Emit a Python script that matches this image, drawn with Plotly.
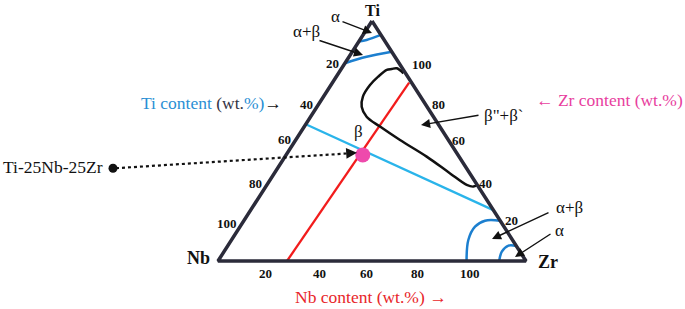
import plotly.graph_objects as go

# ---------------- data (compositions in wt.%: Ti, Zr; Nb = 100 - Ti - Zr) ----------------
vertex_labels = ["Ti", "Nb", "Zr"]
tri_ti = [100, 0, 0, 100]
tri_zr = [0, 0, 100, 0]

red_ti = [0, 74.3]
red_zr = [22.4, 24.9]

blue_ti = [57.0, 21.2]
blue_zr = [0.0, 78.8]

alloy_name = "Ti-25Nb-25Zr"
alloy_ti = [44.2]
alloy_zr = [24.9]

curve_ti = [78.2, 80.3, 80.0, 79.6, 76.8, 73.3, 68.5, 64.3, 60.1, 56.0, 50.4, 43.5, 36.5, 31.7, 31.0, 31.7]
curve_zr = [21.1, 17.9, 16.4, 15.0, 13.6, 12.7, 12.8, 14.5, 18.2, 24.6, 33.9, 46.0, 57.1, 64.9, 67.4, 68.2]

ti_arc1_ti = [91.5, 92.1, 94.2]
ti_arc1_zr = [0.0, 2.2, 5.8]
ti_arc2_ti = [82.4, 85.1, 87.2]
ti_arc2_zr = [0.0, 5.7, 12.8]

zr_arc1_ti = [0.0, 8.75, 14.3, 16.8, 16.8]
zr_arc1_zr = [80.7, 76.9, 76.3, 78.3, 83.2]
zr_arc2_ti = [0.0, 3.9, 6.4, 6.25]
zr_arc2_zr = [91.3, 90.2, 91.1, 93.75]

left_ticks = ["20", "40", "60", "80", "100"]
right_ticks = ["100", "80", "60", "40", "20"]
bottom_ticks = ["20", "40", "60", "80", "100"]

# ---------------- geometry ----------------
W, H = 685, 309
V_TI = (372, 21)
V_NB = (218, 261)
V_ZR = (526, 261)


def to_xy(ti_list, zr_list):
    xs, ys = [], []
    for ti, zr in zip(ti_list, zr_list):
        nb = 100 - ti - zr
        xs.append((ti * V_TI[0] + nb * V_NB[0] + zr * V_ZR[0]) / 100)
        ys.append((ti * V_TI[1] + nb * V_NB[1] + zr * V_ZR[1]) / 100)
    return xs, ys


EDGE = "#2b2b3a"
ARC_BLUE = "#1c7fcf"
LINE_BLUE = "#2ab4ea"
RED = "#f21c1c"
PINK = "#ee4aac"
FONT = "Liberation Serif"

fig = go.Figure()


def add_line(ti, zr, color, width, shape="linear", dash="solid"):
    x, y = to_xy(ti, zr)
    fig.add_trace(go.Scatter(x=x, y=y, mode="lines",
                             line=dict(color=color, width=width, shape=shape, dash=dash),
                             hoverinfo="skip", showlegend=False))


add_line(red_ti, red_zr, RED, 2.3)
add_line(blue_ti, blue_zr, LINE_BLUE, 2.3)
add_line(curve_ti, curve_zr, "#111111", 2.5, shape="spline")
add_line(ti_arc1_ti, ti_arc1_zr, ARC_BLUE, 2.5, shape="spline")
add_line(ti_arc2_ti, ti_arc2_zr, ARC_BLUE, 2.5, shape="spline")
add_line(zr_arc1_ti, zr_arc1_zr, ARC_BLUE, 2.5, shape="spline")
add_line(zr_arc2_ti, zr_arc2_zr, ARC_BLUE, 2.5, shape="spline")
add_line(tri_ti, tri_zr, EDGE, 3.5)

# dotted pointer from label dot to alloy point
dot_tail = (116, 168.2)
ax_, ay_ = to_xy(alloy_ti, alloy_zr)
fig.add_trace(go.Scatter(x=[dot_tail[0], ax_[0] - 13], y=[dot_tail[1], ay_[0] - 1.6], mode="lines",
                         line=dict(color="#111111", width=2.2, dash="dot"),
                         hoverinfo="skip", showlegend=False))
fig.add_trace(go.Scatter(x=[113], y=[168.3], mode="markers",
                         marker=dict(color="#111111", size=9),
                         hoverinfo="skip", showlegend=False))
fig.add_trace(go.Scatter(x=ax_, y=ay_, mode="markers",
                         marker=dict(color=PINK, size=15, line=dict(width=0)),
                         hoverinfo="skip", showlegend=False))

ann = []


def text(x, y, s, size=14, color="#111111", bold=False, xanchor="center", yanchor="middle"):
    ann.append(dict(x=x, y=y, xref="x", yref="y", text=("<b>%s</b>" % s) if bold else s,
                    showarrow=False, xanchor=xanchor, yanchor=yanchor,
                    font=dict(family=FONT, size=size, color=color)))


def arrow(tail, head, width=1.4):
    ann.append(dict(x=head[0], y=head[1], ax=tail[0], ay=tail[1], xref="x", yref="y",
                    axref="x", ayref="y", text="", showarrow=True, arrowhead=2,
                    arrowsize=1.3, arrowwidth=width, arrowcolor="#111111", standoff=0))


# vertex labels
text(372, 0, "Ti", 16, bold=True, yanchor="top")
text(198, 258, "Nb", 18, bold=True)
text(548, 262, "Zr", 18, bold=True)

# tick labels along edges
left_pos = [0.817, 0.65, 0.504, 0.32, 0.154]
for lab, t in zip(left_ticks, left_pos):
    x = V_NB[0] + t * (V_TI[0] - V_NB[0])
    y = V_NB[1] + t * (V_TI[1] - V_NB[1])
    text(x - 3, y - 1, lab, 13, bold=True, xanchor="right")

right_pos = [0.817, 0.654, 0.504, 0.321, 0.167]
right_shift = [10, 5, 2, 0, 3]
for lab, t, s in zip(right_ticks, right_pos, right_shift):
    x = V_ZR[0] + t * (V_TI[0] - V_ZR[0])
    y = V_ZR[1] + t * (V_TI[1] - V_ZR[1])
    text(x + s, y, lab, 13, bold=True, xanchor="left")

bottom_pos = [0.153, 0.328, 0.483, 0.649, 0.818]
for lab, t in zip(bottom_ticks, bottom_pos):
    x = V_NB[0] + t * (V_ZR[0] - V_NB[0])
    text(x, 273, lab, 13, bold=True)

# phase labels and arrows
text(335, 16, "α", 17)
arrow((341, 21), (372, 33))
text(306, 31, "α+β", 17)
arrow((318, 40), (363, 55))
text(358, 131, "β", 17)
text(504, 115, "β\"+β`", 17)
arrow((480, 115), (421, 125))
text(569, 207, "α+β", 17)
arrow((550, 212), (492, 239))
text(559, 230, "α", 17)
arrow((552, 233), (515, 257))

# dotted arrow head
ann.append(dict(x=357, y=152.8, ax=347, ay=153.4, xref="x", yref="y", axref="x", ayref="y",
                text="", showarrow=True, arrowhead=2, arrowsize=1.2, arrowwidth=1.8,
                arrowcolor="#111111", standoff=0))

# axis titles
text(53, 167, alloy_name, 17.5)
text(211, 103, '<span style="color:#2a8fd4">Ti content </span><span style="color:#333344">(wt.</span>'
     '<span style="color:#2a8fd4">%)</span><span style="color:#111111">→</span>', 17.5)
text(609, 100, "← Zr content (wt.%)", 17.5, color="#e8409e")
text(371, 297, "Nb content (wt.%) →", 17.5, color="#e8262a")

fig.update_layout(
    width=W, height=H, margin=dict(l=0, r=0, t=0, b=0),
    paper_bgcolor="white", plot_bgcolor="white",
    xaxis=dict(range=[0, W], visible=False, fixedrange=True),
    yaxis=dict(range=[H, 0], visible=False, fixedrange=True),
    annotations=ann, showlegend=False,
)

fig.write_html("out.html", config={"displayModeBar": False},
               post_script="document.body.style.margin='0';document.body.style.padding='0';"
                           "document.documentElement.style.overflow='hidden';")
